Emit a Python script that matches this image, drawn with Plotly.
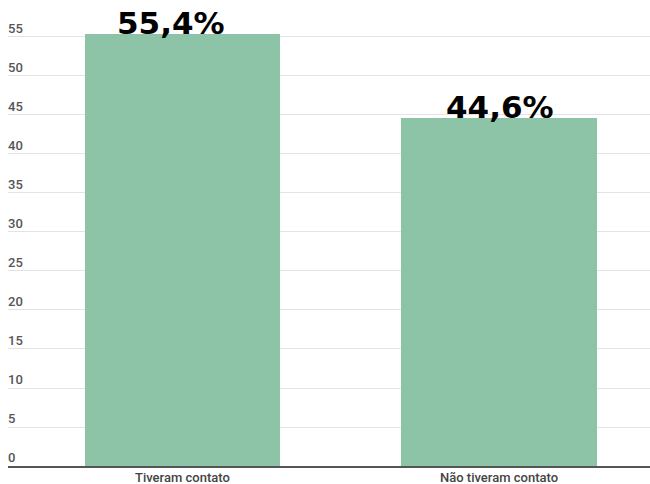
import plotly.graph_objects as go

categories = ["Tiveram contato", "Não tiveram contato"]
values = [55.4, 44.6]
value_labels = ["55,4%", "44,6%"]
y_ticks = [0, 5, 10, 15, 20, 25, 30, 35, 40, 45, 50, 55]

bar_color = "#8dc3a7"
label_nudge = [-11, 1]  # horizontal pixel nudge of each value label

fig = go.Figure(
    go.Bar(
        x=[0, 1],
        y=values,
        width=0.616,
        marker=dict(color=bar_color, line=dict(width=0)),
        hoverinfo="skip",
    )
)

# value labels sitting on top of each bar
for i, (v, lab) in enumerate(zip(values, value_labels)):
    fig.add_annotation(
        x=i, y=v, text=f"<b>{lab}</b>", showarrow=False,
        xanchor="center", yanchor="bottom", yshift=-9, xshift=label_nudge[i],
        font=dict(family="DejaVu Sans", size=31, color="#000000"),
    )

# y tick labels drawn just above their gridlines at the left edge
for t in y_ticks:
    fig.add_annotation(
        x=0, xref="paper", y=t, yref="y", text=str(t), showarrow=False,
        xanchor="left", yanchor="bottom", xshift=-2, yshift=-1,
        font=dict(family="Roboto", size=13, color="#555555", weight=500),
    )

# category labels placed tightly under the baseline
for i, c in enumerate(categories):
    fig.add_annotation(
        x=i, y=0, yref="paper", text=c, showarrow=False,
        xanchor="center", yanchor="top", yshift=-2,
        font=dict(family="Roboto", size=13, color="#444444", weight=500),
    )

fig.update_layout(
    width=650, height=484,
    margin=dict(l=8, r=0, t=0, b=18),
    paper_bgcolor="white", plot_bgcolor="white",
    showlegend=False,
    bargap=0,
)

fig.update_xaxes(
    range=[-0.551, 1.477],
    showticklabels=False,
    showgrid=False, zeroline=False, automargin=False,
    showline=True, linecolor="#555555", linewidth=2,
    ticks="",
)

fig.update_yaxes(
    range=[0, 59.74],
    tickvals=y_ticks, showticklabels=False, automargin=False,
    showgrid=True, gridcolor="#e3e3e3", gridwidth=1,
    zeroline=False, showline=False, ticks="",
)

fig.write_html("out.html")
